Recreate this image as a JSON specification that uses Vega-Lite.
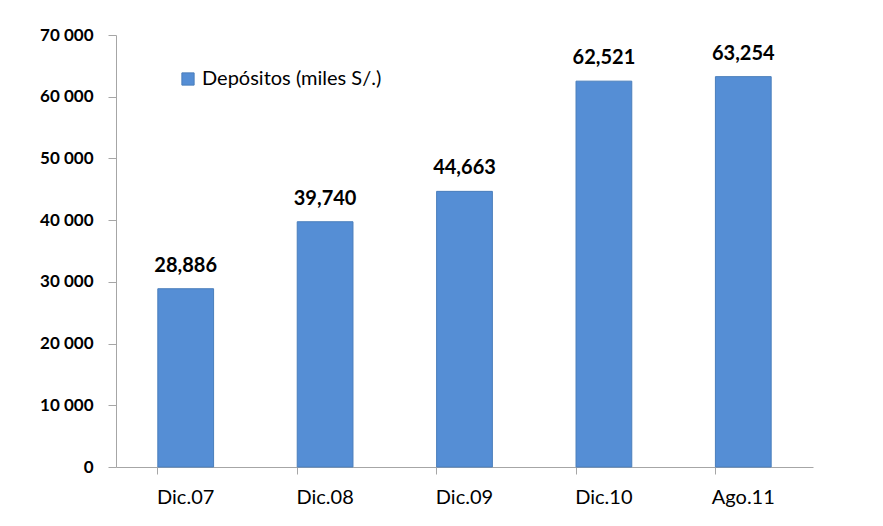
{
  "$schema": "https://vega.github.io/schema/vega-lite/v6.json",
  "autosize": "none",
  "width": 697,
  "height": 432,
  "padding": {"left": 116, "top": 35, "right": 70, "bottom": 59},
  "background": "white",
  "config": {"view": {"stroke": null}, "font": "Lato"},
  "data": {"values": [
    {"periodo": "Dic.07", "valor": 28886, "serie": "Depósitos (miles S/.)"},
    {"periodo": "Dic.08", "valor": 39740, "serie": "Depósitos (miles S/.)"},
    {"periodo": "Dic.09", "valor": 44663, "serie": "Depósitos (miles S/.)"},
    {"periodo": "Dic.10", "valor": 62521, "serie": "Depósitos (miles S/.)"},
    {"periodo": "Ago.11", "valor": 63254, "serie": "Depósitos (miles S/.)"}
  ]},
  "encoding": {
    "x": {"field": "periodo", "type": "nominal", "sort": null,
      "scale": {"paddingInner": 0.6, "paddingOuter": 0.3},
      "axis": {"title": null, "labelAngle": 0, "domainColor": "#a6a6a6", "tickColor": "#a6a6a6", "tickSize": 7, "bandPosition": 0, "labelPadding": 13, "labelFont": "Lato", "labelFontSize": 20, "labelFontWeight": "normal", "labelColor": "#000000"}},
    "y": {"field": "valor", "type": "quantitative",
      "scale": {"domain": [0, 70000]},
      "axis": {"title": null, "values": [0,10000,20000,30000,40000,50000,60000,70000], "grid": false, "domainColor": "#a6a6a6", "tickColor": "#a6a6a6", "tickSize": 8, "labelPadding": 15, "labelFont": "Lato", "labelFontSize": 17, "labelFontWeight": "bold", "labelColor": "#000000", "labelExpr": "replace(format(datum.value, ','), ',', ' ')"}}
  },
  "layer": [
    {"mark": {"type": "bar", "stroke": "#4a7ebb", "strokeWidth": 1},
     "encoding": {"color": {"field": "serie", "type": "nominal",
       "scale": {"range": ["#558ed5"]},
       "legend": {"title": null, "orient": "none", "legendX": 62, "legendY": 34, "symbolType": "square", "symbolSize": 150, "symbolStrokeColor": "#4a7ebb", "symbolStrokeWidth": 1, "symbolOpacity": 1, "labelFont": "Lato", "labelFontSize": 20, "labelColor": "#000000", "labelLimit": 400}}}},
    {"mark": {"type": "text", "dy": -13, "baseline": "bottom", "font": "Lato", "fontSize": 20, "fontWeight": "bold", "color": "#000000"},
     "encoding": {"text": {"field": "valor", "type": "quantitative", "format": ","}}}
  ]
}
